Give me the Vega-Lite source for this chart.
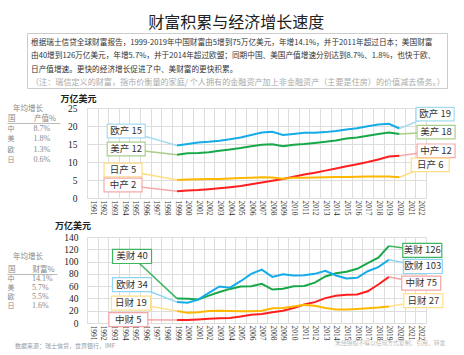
{
  "$schema": "https://vega.github.io/schema/vega-lite/v6.json",
  "padding": {"left": 7, "top": 14, "right": 4, "bottom": 4},
  "title": {"text": "财富积累与经济增长速度", "font": "Noto Sans CJK SC", "fontSize": 16, "fontWeight": "normal", "color": "#222", "anchor": "middle", "offset": -3, "dx": 4},
  "config": {"view": {"stroke": null}, "font": "Noto Sans CJK SC"},
  "spacing": 5,
  "resolve": {"scale": {"color": "independent", "stroke": "independent", "size": "independent"}},
  "datasets": {
    "notes": [
      {"i": 1, "kind": "body", "t": "根据瑞士信贷全球财富报告，1999-2019年中国财富由5增到75万亿美元，年增14.1%，并于2011年超过日本；美国财富"},
      {"i": 2, "kind": "body", "t": "由40增到126万亿美元，年增5.7%，并于2014年超过欧盟；同期中国、美国产值增速分别达到8.7%、1.8%，也快于欧、"},
      {"i": 3, "kind": "body", "t": "日产值增速。更快的经济增长促进了中、美财富的更快积累。"},
      {"i": 4, "kind": "note", "t": "（注：瑞信定义的财富，指市价衡量的家庭/ 个人拥有的金融资产加上非金融资产（主要是住房）的价值减去债务。）"}
    ],
    "t1": [{"c": "中", "g": "8.7%"}, {"c": "美", "g": "1.8%"}, {"c": "欧", "g": "1.3%"}, {"c": "日", "g": "0.6%"}],
    "t2": [{"c": "中", "g": "14.1%"}, {"c": "美", "g": "5.7%"}, {"c": "欧", "g": "5.5%"}, {"c": "日", "g": "1.6%"}],
    "gdp": [
      {"year": 1999, "s": "欧", "v": 14.6}, {"year": 2000, "s": "欧", "v": 15.0}, {"year": 2001, "s": "欧", "v": 15.4}, {"year": 2002, "s": "欧", "v": 15.6}, {"year": 2003, "s": "欧", "v": 15.9}, {"year": 2004, "s": "欧", "v": 16.3}, {"year": 2005, "s": "欧", "v": 16.8}, {"year": 2006, "s": "欧", "v": 17.5}, {"year": 2007, "s": "欧", "v": 18.2}, {"year": 2008, "s": "欧", "v": 18.4}, {"year": 2009, "s": "欧", "v": 17.5}, {"year": 2010, "s": "欧", "v": 17.8}, {"year": 2011, "s": "欧", "v": 18.1}, {"year": 2012, "s": "欧", "v": 18.1}, {"year": 2013, "s": "欧", "v": 18.3}, {"year": 2014, "s": "欧", "v": 18.6}, {"year": 2015, "s": "欧", "v": 19.0}, {"year": 2016, "s": "欧", "v": 19.4}, {"year": 2017, "s": "欧", "v": 19.9}, {"year": 2018, "s": "欧", "v": 20.4}, {"year": 2019, "s": "欧", "v": 20.6}, {"year": 2020, "s": "欧", "v": 19.3},
      {"year": 1999, "s": "美", "v": 12.0}, {"year": 2000, "s": "美", "v": 12.4}, {"year": 2001, "s": "美", "v": 12.5}, {"year": 2002, "s": "美", "v": 12.7}, {"year": 2003, "s": "美", "v": 13.1}, {"year": 2004, "s": "美", "v": 13.5}, {"year": 2005, "s": "美", "v": 13.9}, {"year": 2006, "s": "美", "v": 14.4}, {"year": 2007, "s": "美", "v": 14.8}, {"year": 2008, "s": "美", "v": 14.9}, {"year": 2009, "s": "美", "v": 14.4}, {"year": 2010, "s": "美", "v": 14.8}, {"year": 2011, "s": "美", "v": 15.0}, {"year": 2012, "s": "美", "v": 15.3}, {"year": 2013, "s": "美", "v": 15.6}, {"year": 2014, "s": "美", "v": 16.0}, {"year": 2015, "s": "美", "v": 16.5}, {"year": 2016, "s": "美", "v": 16.8}, {"year": 2017, "s": "美", "v": 17.3}, {"year": 2018, "s": "美", "v": 17.8}, {"year": 2019, "s": "美", "v": 18.2}, {"year": 2020, "s": "美", "v": 17.8},
      {"year": 1999, "s": "中", "v": 1.9}, {"year": 2000, "s": "中", "v": 2.05}, {"year": 2001, "s": "中", "v": 2.2}, {"year": 2002, "s": "中", "v": 2.45}, {"year": 2003, "s": "中", "v": 2.7}, {"year": 2004, "s": "中", "v": 3.0}, {"year": 2005, "s": "中", "v": 3.35}, {"year": 2006, "s": "中", "v": 3.8}, {"year": 2007, "s": "中", "v": 4.3}, {"year": 2008, "s": "中", "v": 4.8}, {"year": 2009, "s": "中", "v": 5.3}, {"year": 2010, "s": "中", "v": 5.9}, {"year": 2011, "s": "中", "v": 6.5}, {"year": 2012, "s": "中", "v": 7.0}, {"year": 2013, "s": "中", "v": 7.6}, {"year": 2014, "s": "中", "v": 8.2}, {"year": 2015, "s": "中", "v": 8.8}, {"year": 2016, "s": "中", "v": 9.4}, {"year": 2017, "s": "中", "v": 10.0}, {"year": 2018, "s": "中", "v": 10.7}, {"year": 2019, "s": "中", "v": 11.5}, {"year": 2020, "s": "中", "v": 11.75},
      {"year": 1999, "s": "日", "v": 5.0}, {"year": 2000, "s": "日", "v": 5.15}, {"year": 2001, "s": "日", "v": 5.2}, {"year": 2002, "s": "日", "v": 5.25}, {"year": 2003, "s": "日", "v": 5.3}, {"year": 2004, "s": "日", "v": 5.45}, {"year": 2005, "s": "日", "v": 5.55}, {"year": 2006, "s": "日", "v": 5.65}, {"year": 2007, "s": "日", "v": 5.75}, {"year": 2008, "s": "日", "v": 5.7}, {"year": 2009, "s": "日", "v": 5.35}, {"year": 2010, "s": "日", "v": 5.6}, {"year": 2011, "s": "日", "v": 5.6}, {"year": 2012, "s": "日", "v": 5.7}, {"year": 2013, "s": "日", "v": 5.75}, {"year": 2014, "s": "日", "v": 5.8}, {"year": 2015, "s": "日", "v": 5.85}, {"year": 2016, "s": "日", "v": 5.9}, {"year": 2017, "s": "日", "v": 5.95}, {"year": 2018, "s": "日", "v": 6.0}, {"year": 2019, "s": "日", "v": 6.0}, {"year": 2020, "s": "日", "v": 5.75}
    ],
    "gdpLabels": [
      {"s": "欧", "label": "欧产  15", "px": 1999, "py": 14.6, "lx": 1994.2, "ly": 18.6},
      {"s": "美", "label": "美产  12", "px": 1999, "py": 12.0, "lx": 1994.2, "ly": 13.6},
      {"s": "日", "label": "日产  5", "px": 1999, "py": 5.0, "lx": 1993.9, "ly": 7.8},
      {"s": "中", "label": "中产  2", "px": 1999, "py": 1.9, "lx": 1993.9, "ly": 3.6},
      {"s": "欧", "label": "欧产  19", "px": 2020, "py": 19.3, "lx": 2023.36, "ly": 23.3},
      {"s": "美", "label": "美产  18", "px": 2020, "py": 17.8, "lx": 2023.45, "ly": 18.3},
      {"s": "中", "label": "中产  12", "px": 2020, "py": 11.75, "lx": 2023.45, "ly": 13.1},
      {"s": "日", "label": "日产  6", "px": 2020, "py": 5.75, "lx": 2022.9, "ly": 9.2}
    ],
    "wealth": [
      {"year": 1999, "s": "美", "v": 39.7}, {"year": 2000, "s": "美", "v": 39.5}, {"year": 2001, "s": "美", "v": 38.3}, {"year": 2002, "s": "美", "v": 44.5}, {"year": 2003, "s": "美", "v": 50.5}, {"year": 2004, "s": "美", "v": 55.5}, {"year": 2005, "s": "美", "v": 59.5}, {"year": 2006, "s": "美", "v": 60.0}, {"year": 2007, "s": "美", "v": 63.7}, {"year": 2008, "s": "美", "v": 54.5}, {"year": 2009, "s": "美", "v": 55.7}, {"year": 2010, "s": "美", "v": 59.8}, {"year": 2011, "s": "美", "v": 60.4}, {"year": 2012, "s": "美", "v": 65.8}, {"year": 2013, "s": "美", "v": 75.7}, {"year": 2014, "s": "美", "v": 81.1}, {"year": 2015, "s": "美", "v": 83.3}, {"year": 2016, "s": "美", "v": 88.2}, {"year": 2017, "s": "美", "v": 97.4}, {"year": 2018, "s": "美", "v": 106.2}, {"year": 2019, "s": "美", "v": 125.5},
      {"year": 1999, "s": "欧", "v": 34.0}, {"year": 2000, "s": "欧", "v": 33.0}, {"year": 2001, "s": "欧", "v": 38.0}, {"year": 2002, "s": "欧", "v": 49.0}, {"year": 2003, "s": "欧", "v": 59.5}, {"year": 2004, "s": "欧", "v": 57.5}, {"year": 2005, "s": "欧", "v": 68.0}, {"year": 2006, "s": "欧", "v": 80.0}, {"year": 2007, "s": "欧", "v": 87.0}, {"year": 2008, "s": "欧", "v": 75.0}, {"year": 2009, "s": "欧", "v": 79.5}, {"year": 2010, "s": "欧", "v": 77.3}, {"year": 2011, "s": "欧", "v": 77.8}, {"year": 2012, "s": "欧", "v": 80.0}, {"year": 2013, "s": "欧", "v": 85.0}, {"year": 2014, "s": "欧", "v": 77.3}, {"year": 2015, "s": "欧", "v": 72.4}, {"year": 2016, "s": "欧", "v": 73.5}, {"year": 2017, "s": "欧", "v": 84.3}, {"year": 2018, "s": "欧", "v": 90.9}, {"year": 2019, "s": "欧", "v": 103.0},
      {"year": 1999, "s": "中", "v": 4.9}, {"year": 2000, "s": "中", "v": 4.9}, {"year": 2001, "s": "中", "v": 5.8}, {"year": 2002, "s": "中", "v": 6.9}, {"year": 2003, "s": "中", "v": 7.8}, {"year": 2004, "s": "中", "v": 8.2}, {"year": 2005, "s": "中", "v": 10.5}, {"year": 2006, "s": "中", "v": 13.5}, {"year": 2007, "s": "中", "v": 14.5}, {"year": 2008, "s": "中", "v": 17.5}, {"year": 2009, "s": "中", "v": 20.0}, {"year": 2010, "s": "中", "v": 24.5}, {"year": 2011, "s": "中", "v": 30.0}, {"year": 2012, "s": "中", "v": 34.0}, {"year": 2013, "s": "中", "v": 40.5}, {"year": 2014, "s": "中", "v": 44.5}, {"year": 2015, "s": "中", "v": 46.0}, {"year": 2016, "s": "中", "v": 46.3}, {"year": 2017, "s": "中", "v": 51.6}, {"year": 2018, "s": "中", "v": 62.6}, {"year": 2019, "s": "中", "v": 75.0},
      {"year": 1999, "s": "日", "v": 19.5}, {"year": 2000, "s": "日", "v": 16.5}, {"year": 2001, "s": "日", "v": 17.5}, {"year": 2002, "s": "日", "v": 19.5}, {"year": 2003, "s": "日", "v": 20.0}, {"year": 2004, "s": "日", "v": 19.5}, {"year": 2005, "s": "日", "v": 19.0}, {"year": 2006, "s": "日", "v": 19.0}, {"year": 2007, "s": "日", "v": 20.0}, {"year": 2008, "s": "日", "v": 24.0}, {"year": 2009, "s": "日", "v": 24.5}, {"year": 2010, "s": "日", "v": 27.0}, {"year": 2011, "s": "日", "v": 29.5}, {"year": 2012, "s": "日", "v": 28.0}, {"year": 2013, "s": "日", "v": 24.5}, {"year": 2014, "s": "日", "v": 22.0}, {"year": 2015, "s": "日", "v": 21.8}, {"year": 2016, "s": "日", "v": 22.8}, {"year": 2017, "s": "日", "v": 24.0}, {"year": 2018, "s": "日", "v": 25.2}, {"year": 2019, "s": "日", "v": 27.0}
    ],
    "wealthLabels": [
      {"s": "美", "label": "美财  40", "px": 1999, "py": 39.7, "lx": 1994.75, "ly": 108.3},
      {"s": "欧", "label": "欧财  34", "px": 1999, "py": 34.0, "lx": 1994.75, "ly": 62.6},
      {"s": "日", "label": "日财  19", "px": 1999, "py": 19.5, "lx": 1994.65, "ly": 32.4},
      {"s": "中", "label": "中财  5", "px": 1999, "py": 4.9, "lx": 1994.4, "ly": 5.4},
      {"s": "美", "label": "美财  126", "px": 2019, "py": 125.5, "lx": 2022.15, "ly": 118.1},
      {"s": "欧", "label": "欧财  103", "px": 2019, "py": 103.0, "lx": 2022.2, "ly": 92.0},
      {"s": "中", "label": "中财  75", "px": 2019, "py": 75.0, "lx": 2022.05, "ly": 65.0},
      {"s": "日", "label": "日财  27", "px": 2019, "py": 27.0, "lx": 2022.25, "ly": 36.4}
    ]
  },
  "vconcat": [
    {
      "bounds": "flush",
      "spacing": 10,
      "hconcat": [
        {"width": 10, "height": 1, "data": {"values": [{"a": 1}]}, "mark": {"type": "text", "text": " "}},
        {
          "width": 420, "height": 55,
          "view": {"stroke": "#cccccc", "strokeWidth": 1},
          "data": {"name": "notes"},
          "mark": {"type": "text", "align": "left", "baseline": "middle", "font": "Noto Sans CJK SC"},
          "encoding": {
            "x": {"datum": 4, "type": "quantitative", "scale": {"domain": [0, 420]}, "axis": null},
            "y": {"field": "i", "type": "quantitative", "scale": {"domain": [0.25, 4.375], "reverse": true, "nice": false, "zero": false}, "axis": null},
            "text": {"field": "t"},
            "color": {"field": "kind", "type": "nominal", "scale": {"domain": ["body", "note"], "range": ["#333333", "#aaaaaa"]}, "legend": null},
            "size": {"field": "kind", "type": "ordinal", "scale": {"domain": ["body", "note"], "range": [7.65, 8.1]}, "legend": null}
          }
        }
      ]
    },
    {
      "bounds": "flush",
      "spacing": 27,
      "hconcat": [
        {
          "width": 53, "height": 55,
          "data": {"name": "t1"},
          "encoding": {
            "y": {"field": "c", "type": "ordinal", "scale": {"type": "point", "domain": ["中", "美", "欧", "日"], "range": [21, 52], "padding": 0}, "axis": null}
          },
          "layer": [
            {
              "mark": {"type": "text", "align": "left", "baseline": "middle", "fontSize": 7, "color": "#888888", "font": "Noto Sans CJK SC"},
              "encoding": {
                "x": {"datum": "国", "type": "ordinal", "scale": {"type": "point", "domain": ["国", "产值%"], "range": [0, 53], "padding": 0.519, "align": 0.02},
                  "axis": {"orient": "top", "offset": -15, "title": "年均增长", "titleX": 20.5, "titleAlign": "center", "titleFontSize": 7.5, "titleFontWeight": "normal", "titleColor": "#888888", "titlePadding": 2.5, "labelAngle": 0, "labelAlign": "left", "labelFontSize": 7.5, "labelColor": "#888888", "labelPadding": 0.5, "ticks": false, "domainColor": "#aaaaaa", "domainWidth": 0.8}},
                "text": {"field": "c"}
              }
            },
            {
              "mark": {"type": "text", "align": "left", "baseline": "middle", "fontSize": 8, "color": "#888888", "font": "Liberation Serif"},
              "encoding": {
                "x": {"datum": "产值%", "type": "ordinal"},
                "text": {"field": "g"}
              }
            }
          ]
        },
        {
          "width": 339, "height": 90,
          "resolve": {"axis": {"x": "independent", "y": "independent"}},
          "layer": [
            {
              "data": {"name": "gdp"},
              "mark": {"type": "line", "strokeWidth": 2},
              "encoding": {
                "x": {"field": "year", "type": "quantitative", "scale": {"domain": [1990.5, 2022.5], "nice": false, "zero": false},
                  "axis": {"values": [1990.5,1991.5,1992.5,1993.5,1994.5,1995.5,1996.5,1997.5,1998.5,1999.5,2000.5,2001.5,2002.5,2003.5,2004.5,2005.5,2006.5,2007.5,2008.5,2009.5,2010.5,2011.5,2012.5,2013.5,2014.5,2015.5,2016.5,2017.5,2018.5,2019.5,2020.5,2021.5,2022.5],
                    "labelExpr": "datum.value < 2022 ? format(datum.value + 0.5, 'd') : ''", "labelOffset": 5.3, "labelAngle": 90, "labelAlign": "left", "labelBaseline": "middle",
                    "labelFont": "Liberation Serif", "labelFontSize": 7.5, "labelColor": "#333333", "labelPadding": 2, "labelOverlap": false, "labelFlush": false, "labelBound": false,
                    "ticks": false, "domain": false, "grid": true, "gridColor": "#dddddd", "gridWidth": 1, "title": null}},
                "y": {"field": "v", "type": "quantitative", "scale": {"domain": [0, 25], "nice": false},
                  "axis": {"values": [0, 5, 10, 15, 20, 25], "grid": true, "gridColor": "#dddddd", "domain": false, "ticks": false, "labelOverlap": false,
                    "labelFont": "Liberation Serif", "labelFontSize": 9.5, "labelColor": "#222222", "labelPadding": 10,
                    "title": "万亿美元", "titleAngle": 0, "titleX": -9, "titleY": -10, "titleAlign": "center", "titleBaseline": "middle",
                    "titleFont": "Noto Sans CJK SC", "titleFontSize": 9, "titleFontWeight": "bold", "titleColor": "#222222"}},
                "color": {"field": "s", "type": "nominal", "scale": {"domain": ["欧", "美", "中", "日"], "range": ["#15ABE8", "#17A84A", "#FF1F1F", "#FFB700"]}, "legend": null}
              }
            },
            {
              "data": {"name": "gdpLabels"},
              "mark": {"type": "rule", "strokeWidth": 1.5},
              "encoding": {
                "x": {"field": "px", "type": "quantitative", "axis": null},
                "y": {"field": "py", "type": "quantitative", "axis": null},
                "x2": {"field": "lx"},
                "y2": {"field": "ly"},
                "stroke": {"field": "s", "type": "nominal", "scale": {"domain": ["欧", "美", "中", "日"], "range": ["#A6DBEF", "#A9CE8C", "#F5AAAA", "#FFDD85"]}, "legend": null}
              }
            },
            {
              "data": {"name": "gdpLabels"},
              "mark": {"type": "point", "shape": "M-1,-0.36H1V0.36H-1Z", "size": 1444, "filled": true, "fill": "white", "opacity": 1, "strokeWidth": 1.2},
              "encoding": {
                "x": {"field": "lx", "type": "quantitative", "axis": null},
                "y": {"field": "ly", "type": "quantitative", "axis": null},
                "stroke": {"field": "s", "type": "nominal", "legend": null}
              }
            },
            {
              "data": {"name": "gdpLabels"},
              "mark": {"type": "text", "fontSize": 9.5, "color": "#333333", "font": "Noto Sans CJK SC", "baseline": "middle"},
              "encoding": {
                "x": {"field": "lx", "type": "quantitative", "axis": null},
                "y": {"field": "ly", "type": "quantitative", "axis": null},
                "text": {"field": "label"}
              }
            }
          ]
        }
      ]
    },
    {
      "bounds": "flush",
      "spacing": 27,
      "hconcat": [
        {
          "width": 53, "height": 100,
          "title": {"text": "数据来源：瑞士信贷，世界银行，IMF", "orient": "bottom", "anchor": "start", "frame": "group", "fontSize": 6, "fontWeight": "normal", "color": "#999999", "offset": 6, "dx": 8},
          "data": {"name": "t2"},
          "encoding": {
            "y": {"field": "c", "type": "ordinal", "scale": {"type": "point", "domain": ["中", "美", "欧", "日"], "range": [41.5, 69], "padding": 0}, "axis": null}
          },
          "layer": [
            {
              "mark": {"type": "text", "align": "left", "baseline": "middle", "fontSize": 7, "color": "#888888", "font": "Noto Sans CJK SC"},
              "encoding": {
                "x": {"datum": "国", "type": "ordinal", "scale": {"type": "point", "domain": ["国", "财富%"], "range": [0, 50], "padding": 0.52, "align": 0.02},
                  "axis": {"orient": "top", "offset": -37, "title": "年均增长", "titleX": 20.5, "titleAlign": "center", "titleFontSize": 7.5, "titleFontWeight": "normal", "titleColor": "#888888", "titlePadding": 4.5, "labelAngle": 0, "labelAlign": "left", "labelFontSize": 7.5, "labelColor": "#888888", "labelPadding": 1, "ticks": false, "domainColor": "#aaaaaa", "domainWidth": 0.8}},
                "text": {"field": "c"}
              }
            },
            {
              "mark": {"type": "text", "align": "left", "baseline": "middle", "fontSize": 8, "color": "#888888", "font": "Liberation Serif"},
              "encoding": {
                "x": {"datum": "财富%", "type": "ordinal"},
                "text": {"field": "g"}
              }
            }
          ]
        },
        {
          "width": 339, "height": 86,
          "resolve": {"axis": {"x": "independent", "y": "independent"}},
          "title": {"text": "未经授权不得以任何方式复制，引用，转发", "orient": "bottom", "anchor": "end", "fontSize": 5.8, "fontWeight": "normal", "color": "#bbbbbb", "offset": 0},
          "layer": [
            {
              "data": {"name": "wealth"},
              "mark": {"type": "line", "strokeWidth": 2},
              "encoding": {
                "x": {"field": "year", "type": "quantitative", "scale": {"domain": [1990.5, 2022.5], "nice": false, "zero": false},
                  "axis": {"values": [1990.5,1991.5,1992.5,1993.5,1994.5,1995.5,1996.5,1997.5,1998.5,1999.5,2000.5,2001.5,2002.5,2003.5,2004.5,2005.5,2006.5,2007.5,2008.5,2009.5,2010.5,2011.5,2012.5,2013.5,2014.5,2015.5,2016.5,2017.5,2018.5,2019.5,2020.5,2021.5,2022.5],
                    "labelExpr": "datum.value < 2022 ? format(datum.value + 0.5, 'd') : ''", "labelOffset": 5.3, "labelAngle": 90, "labelAlign": "left", "labelBaseline": "middle",
                    "labelFont": "Liberation Serif", "labelFontSize": 7.5, "labelColor": "#333333", "labelPadding": 2, "labelOverlap": false, "labelFlush": false, "labelBound": false,
                    "ticks": false, "domain": false, "grid": true, "gridColor": "#dddddd", "gridWidth": 1, "title": null}},
                "y": {"field": "v", "type": "quantitative", "scale": {"domain": [0, 140], "nice": false},
                  "axis": {"values": [0, 20, 40, 60, 80, 100, 120, 140], "grid": true, "gridColor": "#dddddd", "domain": false, "ticks": false, "labelOverlap": false,
                    "labelFont": "Liberation Serif", "labelFontSize": 9.5, "labelColor": "#222222", "labelPadding": 9,
                    "title": "万亿美元", "titleAngle": 0, "titleX": -14.5, "titleY": -11.5, "titleAlign": "center", "titleBaseline": "middle",
                    "titleFont": "Noto Sans CJK SC", "titleFontSize": 9, "titleFontWeight": "bold", "titleColor": "#222222"}},
                "color": {"field": "s", "type": "nominal", "scale": {"domain": ["欧", "美", "中", "日"], "range": ["#15ABE8", "#17A84A", "#FF1F1F", "#FFB700"]}, "legend": null}
              }
            },
            {
              "data": {"name": "wealthLabels"},
              "mark": {"type": "rule", "strokeWidth": 1.5},
              "encoding": {
                "x": {"field": "px", "type": "quantitative", "axis": null},
                "y": {"field": "py", "type": "quantitative", "axis": null},
                "x2": {"field": "lx"},
                "y2": {"field": "ly"},
                "stroke": {"field": "s", "type": "nominal", "scale": {"domain": ["欧", "美", "中", "日"], "range": ["#8FD4F2", "#3DB561", "#F4A5A5", "#FFE08E"]}, "legend": null}
              }
            },
            {
              "data": {"name": "wealthLabels"},
              "mark": {"type": "point", "shape": "M-1,-0.36H1V0.36H-1Z", "size": 1521, "filled": true, "fill": "white", "opacity": 1, "strokeWidth": 1.2},
              "encoding": {
                "x": {"field": "lx", "type": "quantitative", "axis": null},
                "y": {"field": "ly", "type": "quantitative", "axis": null},
                "stroke": {"field": "s", "type": "nominal", "legend": null}
              }
            },
            {
              "data": {"name": "wealthLabels"},
              "mark": {"type": "text", "fontSize": 9.5, "color": "#333333", "font": "Noto Sans CJK SC", "baseline": "middle"},
              "encoding": {
                "x": {"field": "lx", "type": "quantitative", "axis": null},
                "y": {"field": "ly", "type": "quantitative", "axis": null},
                "text": {"field": "label"}
              }
            }
          ]
        }
      ]
    }
  ]
}
